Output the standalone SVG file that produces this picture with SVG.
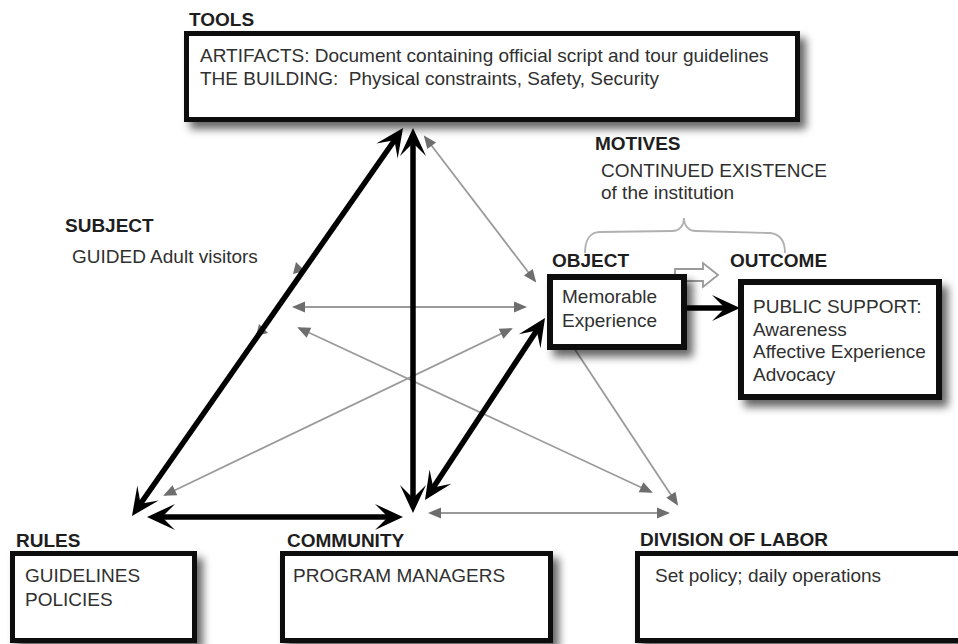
<svg xmlns="http://www.w3.org/2000/svg" width="958" height="644" viewBox="0 0 958 644">
  <defs>
    <style>
      .lbl { font-family: "Liberation Sans", Arial, sans-serif; font-weight: bold; font-size: 19px; fill: #1e1e1e; }
      .txt { font-family: "Liberation Sans", Arial, sans-serif; font-size: 19px; fill: #303030; }
      .box { fill: #ffffff; stroke: #111111; stroke-width: 5; }
      .box6 { fill: #ffffff; stroke: #111111; stroke-width: 6; }
      .thick { fill: none; stroke: #000000; stroke-width: 5.5; }
      .thin { fill: none; stroke: #9a9a9a; stroke-width: 1.8; }
      .brace { fill: none; stroke: #b0b0b0; stroke-width: 1.8; }
    </style>
    <filter id="shadow" x="-10%" y="-15%" width="125%" height="150%">
      <feDropShadow dx="6" dy="7" stdDeviation="4" flood-color="#000000" flood-opacity="0.6"/>
    </filter>
    <!-- barbed head for the thick relations -->
    <marker id="headBlack" viewBox="-20 -15 32 30" refX="0" refY="0" markerWidth="32" markerHeight="30" markerUnits="userSpaceOnUse" orient="auto-start-reverse">
      <path d="M10,0 L-18,-13 L-5,0 L-18,13 Z" fill="#000000"/>
    </marker>
    <!-- small solid head for the thin relations -->
    <marker id="headGray" viewBox="-13 -7 16 14" refX="0" refY="0" markerWidth="16" markerHeight="14" markerUnits="userSpaceOnUse" orient="auto-start-reverse">
      <path d="M2,0 L-11,-5.5 L-11,5.5 Z" fill="#6e6e6e"/>
    </marker>
  </defs>

  <rect width="958" height="644" fill="#ffffff"/>

  <!-- connectors -->
  <g id="connectors">
    <!-- thin gray relations -->
    <line class="thin" x1="425" y1="137" x2="535" y2="281" marker-start="url(#headGray)" marker-end="url(#headGray)"/>
    <line class="thin" x1="294" y1="307" x2="525" y2="307" marker-start="url(#headGray)" marker-end="url(#headGray)"/>
    <line class="thin" x1="299" y1="328" x2="651" y2="492" marker-start="url(#headGray)" marker-end="url(#headGray)"/>
    <line class="thin" x1="165" y1="495" x2="511" y2="329" marker-start="url(#headGray)" marker-end="url(#headGray)"/>
    <line class="thin" x1="572" y1="345" x2="677" y2="504" marker-end="url(#headGray)"/>
    <line class="thin" x1="430" y1="513" x2="668" y2="513" marker-start="url(#headGray)" marker-end="url(#headGray)"/>
    <!-- small gray heads partly under the thick diagonal -->
    <path d="M296,262 L305,271 L293,274 Z" fill="#6e6e6e"/>
    <path d="M259,324 L268,333 L256,336 Z" fill="#6e6e6e"/>

    <!-- thick black relations -->
    <line class="thick" x1="397.3" y1="136.2" x2="137.7" y2="507.8" marker-start="url(#headBlack)" marker-end="url(#headBlack)"/>
    <line class="thick" x1="413" y1="138" x2="413" y2="503" marker-start="url(#headBlack)" marker-end="url(#headBlack)"/>
    <line class="thick" x1="539.5" y1="326.3" x2="430.5" y2="491.7" marker-start="url(#headBlack)" marker-end="url(#headBlack)"/>
    <line class="thick" x1="157" y1="517" x2="393" y2="517" marker-start="url(#headBlack)" marker-end="url(#headBlack)"/>
    <line class="thick" x1="687" y1="308" x2="730" y2="308" marker-end="url(#headBlack)"/>

    <!-- hollow transition arrow, object to outcome -->
    <path d="M675,269 L703,269 L703,263 L718,275 L703,287 L703,281 L675,281 Z" fill="#ffffff" stroke="#9a9a9a" stroke-width="1.8"/>
    <!-- brace grouping object and outcome under motives -->
    <path class="brace" d="M585,253 C585,240 590,232 600,232 L672,231 C680,231 684,225 684,218 C684,225 688,231 696,231 L770,233 C780,234 785,241 785,253"/>
  </g>

  <g id="tools">
    <text class="lbl" x="189" y="26">TOOLS</text>
    <rect class="box" x="186.5" y="33.5" width="611" height="86" filter="url(#shadow)"/>
    <text class="txt" x="200" y="62">ARTIFACTS: Document containing official script and tour guidelines</text>
    <text class="txt" x="200" y="85" xml:space="preserve">THE BUILDING:  Physical constraints, Safety, Security</text>
  </g>

  <g id="motives">
    <text class="lbl" x="595" y="150">MOTIVES</text>
    <text class="txt" x="601" y="177">CONTINUED EXISTENCE</text>
    <text class="txt" x="601" y="199">of the institution</text>
  </g>

  <g id="subject">
    <text class="lbl" x="65" y="232">SUBJECT</text>
    <text class="txt" x="72" y="263">GUIDED Adult visitors</text>
  </g>

  <g id="object">
    <text class="lbl" x="552" y="267">OBJECT</text>
    <rect class="box6" x="550" y="277" width="134" height="70" filter="url(#shadow)"/>
    <text class="txt" x="562" y="303">Memorable</text>
    <text class="txt" x="562" y="327">Experience</text>
  </g>

  <g id="outcome">
    <text class="lbl" x="730" y="267">OUTCOME</text>
    <rect class="box6" x="741" y="282" width="198" height="115" filter="url(#shadow)"/>
    <text class="txt" x="753" y="313">PUBLIC SUPPORT:</text>
    <text class="txt" x="753" y="336">Awareness</text>
    <text class="txt" x="753" y="358">Affective Experience</text>
    <text class="txt" x="753" y="381">Advocacy</text>
  </g>

  <g id="rules">
    <text class="lbl" x="16" y="547">RULES</text>
    <rect class="box" x="12.5" y="553.5" width="182" height="87" filter="url(#shadow)"/>
    <text class="txt" x="25" y="582">GUIDELINES</text>
    <text class="txt" x="25" y="606">POLICIES</text>
  </g>

  <g id="community">
    <text class="lbl" x="287" y="547">COMMUNITY</text>
    <rect class="box" x="282.5" y="553.5" width="268" height="87" filter="url(#shadow)"/>
    <text class="txt" x="293" y="582">PROGRAM MANAGERS</text>
  </g>

  <g id="division">
    <text class="lbl" x="640" y="546">DIVISION OF LABOR</text>
    <rect class="box" x="637.5" y="553.5" width="340" height="87" filter="url(#shadow)"/>
    <text class="txt" x="655" y="582">Set policy; daily operations</text>
  </g>
</svg>
